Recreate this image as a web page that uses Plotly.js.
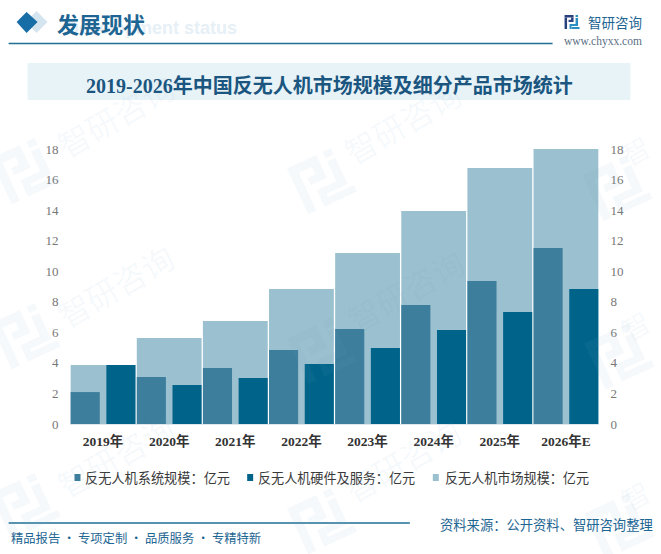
<!DOCTYPE html>
<html>
<head>
<meta charset="utf-8">
<script src="https://cdn.plot.ly/plotly-3.0.1.min.js"></script>
<style>
  html, body { margin: 0; padding: 0; background: #fff; }
  #chart { width: 661px; height: 554px; }
</style>
</head>
<body>
<div id="chart"></div>
<script>
// Data
const years = ['2019年', '2020年', '2021年', '2022年', '2023年', '2024年', '2025年', '2026年E'];
const marketSize = [3.86, 5.63, 6.74, 8.83, 11.19, 13.94, 16.75, 18.0];
const systemSize = [2.09, 3.08, 3.66, 4.84, 6.22, 7.79, 9.36, 11.52];
const hardwareSize = [3.86, 2.55, 3.01, 3.93, 4.97, 6.15, 7.33, 8.83];
const yTicks = [0, 2, 4, 6, 8, 10, 12, 14, 16, 18];

const seriesNames = ['反无人机系统规模：亿元', '反无人机硬件及服务：亿元', '反无人机市场规模：亿元'];
const seriesColors = ['#3c7e9c', '#00648a', '#9bc0cf'];

const W = 661, H = 554;
const plotLeft = 69.5, plotRight = 599.5, plotTop = 149, plotBottom = 424;
const serif = '"Liberation Serif", "Noto Sans CJK SC", serif';
const cjk = '"Noto Sans CJK SC", "Liberation Serif", sans-serif';

// Page furniture is placed in pixels, this converts to paper coordinates
const px = x => (x - plotLeft) / (plotRight - plotLeft);
const py = y => (plotBottom - y) / (plotBottom - plotTop);

function label(text, x, y, size, color, opts) {
    return Object.assign({
        text: text, xref: 'paper', yref: 'paper', x: px(x), y: py(y),
        xanchor: 'left', yanchor: 'middle', showarrow: false,
        font: { family: cjk, size: size, color: color }
    }, opts || {});
}

function box(x0, y0, x1, y1, color) {
    return {
        type: 'rect', xref: 'paper', yref: 'paper', layer: 'below',
        x0: px(x0), x1: px(x1), y0: py(y0), y1: py(y1),
        fillcolor: color, line: { width: 0 }
    };
}

function line(x0, x1, y, color) {
    return {
        type: 'line', xref: 'paper', yref: 'paper', layer: 'below',
        x0: px(x0), x1: px(x1), y0: py(y), y1: py(y),
        line: { color: color, width: 1.5 }
    };
}

function polygon(points, color, layer) {
    const d = points.map((p, i) => (i ? 'L' : 'M') + px(p[0]) + ',' + py(p[1])).join(' ') + ' Z';
    return {
        type: 'path', xref: 'paper', yref: 'paper', layer: layer || 'below',
        path: d, fillcolor: color, line: { width: 0 }
    };
}

// Logo blocks in a 15x14 box: x0, y0, x1, y1
const logoDark = [[0, 0, 9, 2.5], [0, 2.5, 2.5, 14], [6.5, 2.5, 9, 7], [4, 4.8, 6.5, 7]];
const logoLight = [[11, 0, 13.5, 2], [11, 3, 13.5, 9], [5, 9, 13.5, 11], [5, 11, 7, 14], [7, 12, 15, 14]];

function logo(cx, cy, scale, deg, dark, light, layer) {
    const a = deg * Math.PI / 180;
    const place = (x, y) => {
        const dx = (x - 7.5) * scale, dy = (y - 7) * scale;
        return [cx + dx * Math.cos(a) - dy * Math.sin(a), cy + dx * Math.sin(a) + dy * Math.cos(a)];
    };
    const block = (b, color) => polygon(
        [place(b[0], b[1]), place(b[2], b[1]), place(b[2], b[3]), place(b[0], b[3])], color, layer);
    return logoDark.map(b => block(b, dark)).concat(logoLight.map(b => block(b, light)));
}

const shapes = [
    polygon([[36, 11], [47, 22], [36, 33], [25, 22]], '#d5e5ef'),
    polygon([[26, 12], [37, 22], [26, 33], [16, 22]], '#176da6'),
    line(8, 553, 43.5, '#1f6e94'),
    box(27, 63, 631, 100, '#e8f3f8'),
    line(8, 410, 523, '#1f6e94'),
    box(74, 474, 80, 481, seriesColors[0]),
    box(247, 474, 253, 481, seriesColors[1]),
    box(433, 474, 439, 481, seriesColors[2])
].concat(logo(572.5, 22, 1, 0, '#27417f', '#2a8fc0'));

// Faint watermark, repeated across the page
const wmColor = 'rgba(120,165,200,0.07)';
[[25, 170], [25, 335], [25, 505], [322, 180], [322, 350], [322, 520], [618, 187], [620, 355], [620, 525]].forEach(p => {
    shapes.push(...logo(p[0], p[1], 3.6, -25, wmColor, wmColor, 'above'));
});

const annotations = [
    label('Development status', 239, 28, 18, '#e6f0f6', { xanchor: 'right', font: { family: '"Liberation Sans", Arial, sans-serif', size: 18, color: '#e6f0f6', weight: 700 } }),
    label('发展现状', 54, 23, 22, '#1d6592', { font: { family: cjk, size: 22, color: '#1d6592', weight: 700 } }),
    label('智研咨询', 586, 22, 13.5, '#1d6592'),
    label('www.chyxx.com', 562, 42, 11, '#5a6f85', { font: { family: serif, size: 11.5, color: '#5a6f85' } }),
    label('2019-2026年中国反无人机市场规模及细分产品市场统计', 329, 85, 20, '#1a567f', {
        xanchor: 'center', font: { family: serif, size: 20, color: '#1a567f', weight: 700 }
    }),
    label(seriesNames[0], 83, 477.5, 13.2, '#3a3a3a'),
    label(seriesNames[1], 256, 477.5, 13.1, '#3a3a3a'),
    label(seriesNames[2], 443, 477.5, 13.1, '#3a3a3a'),
    label('精品报告 · 专项定制 · 品质服务 · 专精特新', 8, 538, 12.3, '#1d6592'),
    label('资料来源：公开资料、智研咨询整理', 438, 524, 13.3, '#1d6592')
];

const stampColor = 'rgba(120,165,200,0.07)';
[[115, 115], [115, 285], [115, 455], [402, 122], [405, 290], [402, 460]].forEach(p => {
    annotations.push(label('智研咨询', p[0], p[1], 32, stampColor, { xanchor: 'center', textangle: -30 }));
});
[[636, 150], [636, 325], [636, 495]].forEach(p => {
    annotations.push(label('智', p[0], p[1], 28, stampColor, { xanchor: 'center', textangle: -30 }));
});

const traces = [
    {
        type: 'bar', name: seriesNames[2], x: years, y: marketSize, yaxis: 'y',
        width: 0.98, offset: -0.49, marker: { color: seriesColors[2] }
    },
    {
        type: 'bar', name: seriesNames[0], x: years, y: systemSize, yaxis: 'y2',
        width: 0.44, offset: -0.49, marker: { color: seriesColors[0] }
    },
    {
        type: 'bar', name: seriesNames[1], x: years, y: hardwareSize, yaxis: 'y2',
        width: 0.44, offset: 0.05, marker: { color: seriesColors[1] }
    }
];

const valueAxis = {
    range: [0, 18],
    tickmode: 'array',
    tickvals: yTicks,
    ticks: 'outside',
    ticklen: 8,
    tickcolor: 'rgba(0,0,0,0)',
    showgrid: false,
    zeroline: false,
    showline: false,
    fixedrange: true,
    tickfont: { family: serif, size: 13, color: '#777777' }
};

const layout = {
    width: W,
    height: H,
    margin: { l: plotLeft, r: W - plotRight, t: plotTop, b: H - plotBottom, pad: 0 },
    paper_bgcolor: '#ffffff',
    plot_bgcolor: 'rgba(0,0,0,0)',
    barmode: 'overlay',
    showlegend: false,
    xaxis: {
        type: 'category',
        range: [-0.5, 7.5],
        showgrid: false,
        zeroline: false,
        showline: true,
        linecolor: '#dfe7ec',
        linewidth: 1,
        ticks: 'outside',
        ticklen: 5,
        tickcolor: 'rgba(0,0,0,0)',
        fixedrange: true,
        tickfont: { family: serif, size: 13.5, color: '#333333', weight: 700 }
    },
    yaxis: Object.assign({ side: 'left' }, valueAxis),
    yaxis2: Object.assign({ side: 'right', overlaying: 'y' }, valueAxis),
    shapes: shapes,
    annotations: annotations
};

Plotly.newPlot('chart', traces, layout, { displayModeBar: false, responsive: false });
</script>
</body>
</html>
